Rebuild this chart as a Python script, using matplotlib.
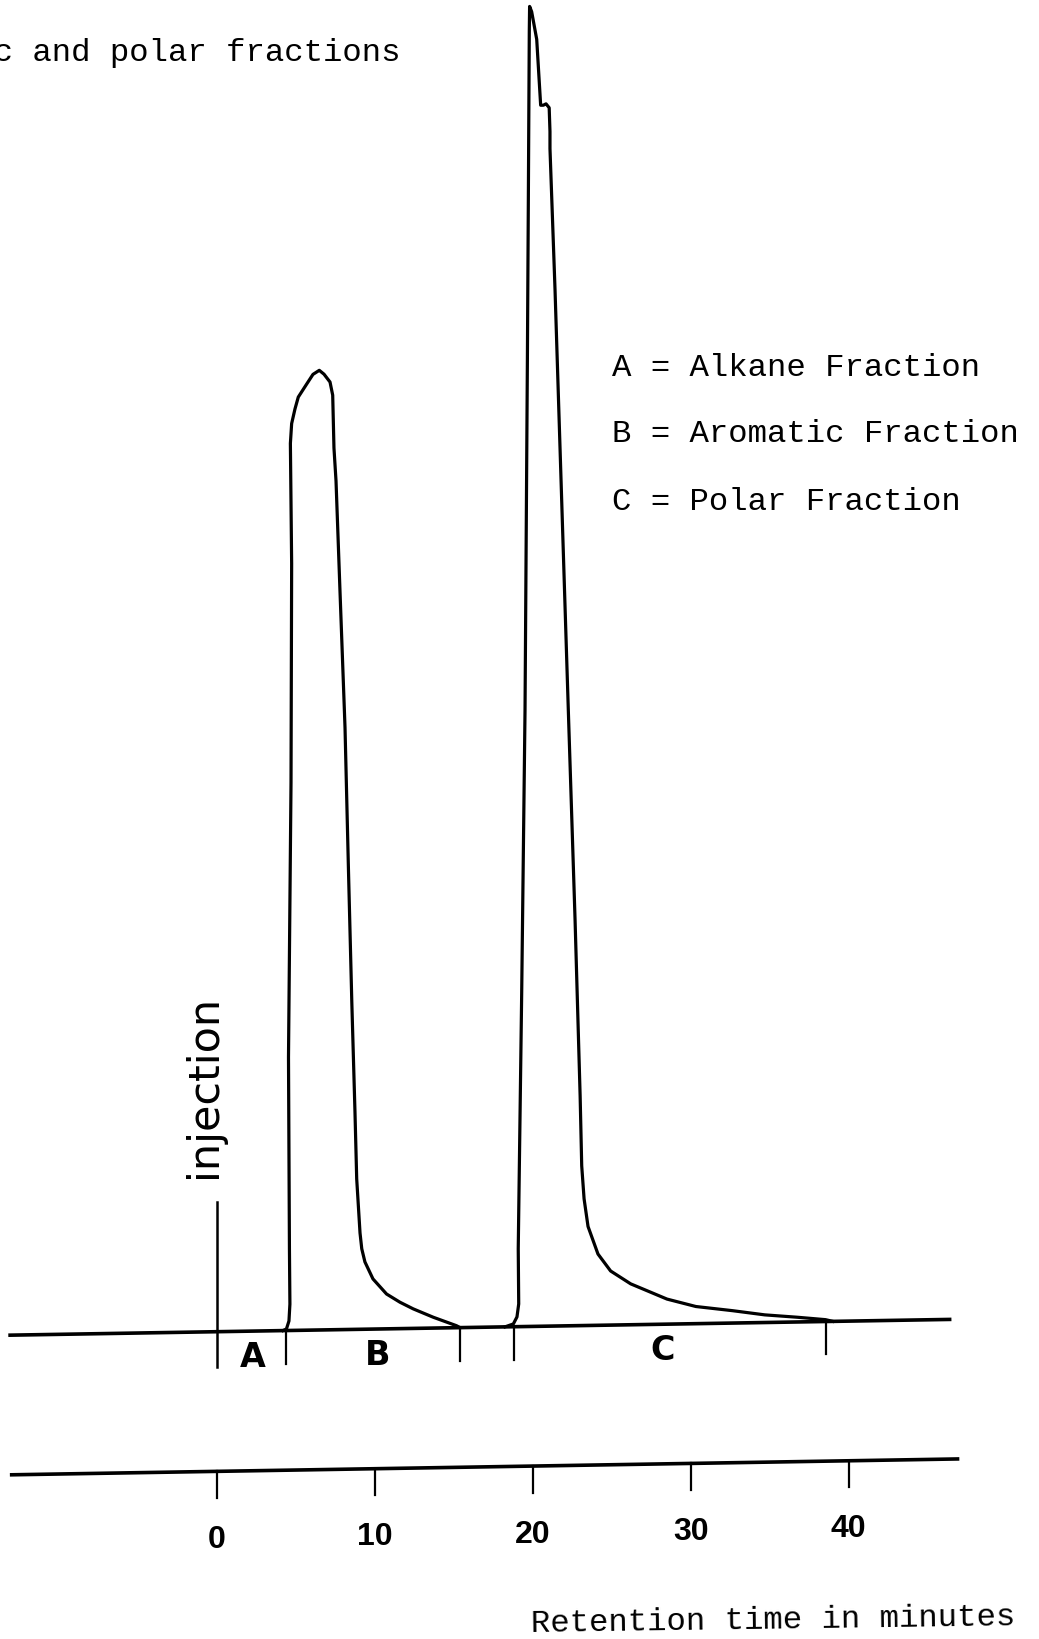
import matplotlib
matplotlib.use('Agg')
import matplotlib.pyplot as plt
from matplotlib.transforms import Affine2D

# chromatogram trace: retention time (min) vs detector response (% of the tallest peak)
peak_b_t = [4.18, 4.40, 4.56, 4.62, 4.59, 4.53, 4.69, 4.73, 4.65, 4.73, 4.94, 5.15,
            5.64, 6.08, 6.48, 6.78, 7.16, 7.33, 7.41, 7.54, 7.79, 8.11, 8.32, 8.54,
            8.74, 8.85, 9.06, 9.17, 9.37, 9.88, 10.74, 11.59, 12.43, 13.70, 15.17, 15.4]
peak_b_r = [0, 0.12, 0.72, 2.0, 6.17, 20.7, 41.5, 58.1, 67.2, 68.7, 69.8, 70.7,
            71.6, 72.4, 72.7, 72.4, 71.8, 70.8, 66.8, 64.3, 56.0, 45.6, 35.2, 24.8,
            16.5, 11.4, 7.3, 6.1, 5.1, 3.8, 2.64, 2.0, 1.48, 0.82, 0.15, 0]

peak_c_t = [18.24, 18.77, 19.0, 19.11, 19.08, 19.30, 19.51, 19.66, 19.72, 19.78, 19.80,
            19.93, 20.25, 20.41, 20.50, 20.67, 20.84, 21.04, 21.09, 21.09, 21.41, 21.83,
            22.25, 22.68, 23.0, 23.1, 23.25, 23.5, 24.13, 24.93, 26.2, 28.5, 30.33,
            32.64, 34.69, 36.74, 38.54, 39.0]
peak_c_r = [0, 0.21, 0.74, 1.72, 5.9, 25.4, 46.7, 73.3, 85.4, 98.1, 100,
            99.6, 97.5, 94.3, 92.5, 92.5, 92.6, 92.3, 90.5, 89.2, 78.5, 62.6,
            46.7, 30.7, 17.4, 12.1, 9.6, 7.5, 5.4, 4.1, 3.1, 1.9, 1.3,
            0.94, 0.58, 0.36, 0.14, 0]

baseline_t = [-13.1, 46.4]
fraction_bounds = [0, 4.37, 15.4, 18.82, 38.57]
fraction_names = ['A', 'B', 'C']
fraction_label_t = [2.3, 10.2, 28.2]
legend_lines = ['A = Alkane Fraction', 'B = Aromatic Fraction', 'C = Polar Fraction']
time_ticks = [0, 10, 20, 30, 40]
time_tick_labels = ['0', '10', '20', '30', '40']

W, H = 1039, 1640
fig = plt.figure(figsize=(W / 100, H / 100), dpi=100)
ax = fig.add_axes([0, 0, 1, 1])
ax.set_xlim(-13.74, 52.06)
ax.set_ylim(-23.28, 100.96)
ax.axis('off')

# the recorder paper drifts slightly upward to the right
x0 = ax.transData.transform((0, 0))[0]
drift = Affine2D().translate(-x0, 0).skew_deg(0, 0.96).translate(x0, 0)
tr = ax.transData + drift

lw = 2.3
ax.plot(baseline_t, [0, 0], color='black', lw=2.6, transform=tr)
ax.plot(peak_b_t, peak_b_r, color='black', lw=lw, transform=tr, solid_joinstyle='round')
ax.plot(peak_c_t, peak_c_r, color='black', lw=lw, transform=tr, solid_joinstyle='round')

# injection mark and fraction cut points
ax.plot([0, 0], [-2.65, 9.8], color='black', lw=1.8, transform=tr)
for b in fraction_bounds[1:]:
    ax.plot([b, b], [0, -2.5], color='black', lw=1.6, transform=tr)
for name, t in zip(fraction_names, fraction_label_t):
    ax.text(t, -1.95, name, transform=tr, ha='center', va='center',
            fontsize=24, fontweight='bold', family=['DejaVu Sans'], color='black')

ax.text(-0.82, 11.7, 'injection', transform=tr, rotation=90, ha='center', va='bottom',
        fontsize=31, family=['DejaVu Sans'], color='black')

# time axis
ax.plot([-13.0, 46.9], [-10.58, -10.58], color='black', lw=2.6, transform=tr)
for t, lab in zip(time_ticks, time_tick_labels):
    ax.plot([t, t], [-10.58, -12.6], color='black', lw=1.6, transform=tr)
    ax.text(t, -15.7, lab, transform=tr, ha='center', va='center', fontsize=23,
            fontweight='bold', family=['Liberation Sans', 'DejaVu Sans'])

mono = ['Liberation Mono', 'DejaVu Sans Mono']


def px(x, y):
    return x / W, 1 - y / H


fig.text(*px(401, 61), 'aromatic and polar fractions', ha='right', va='baseline',
         fontsize=23.3, family=mono)
for i, line in enumerate(legend_lines):
    fig.text(*px(612, [376, 442, 510][i]), line, ha='left', va='baseline',
             fontsize=23.3, family=mono)
fig.text(*px(773, 1632), 'Retention time in minutes', ha='center', va='baseline',
         fontsize=23.3, family=mono, rotation=0.8)

fig.savefig('out.png', dpi=100)
